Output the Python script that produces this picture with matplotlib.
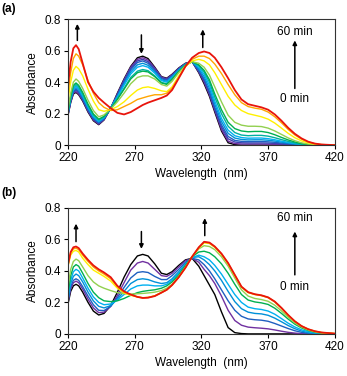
import matplotlib
matplotlib.use("Agg")
import matplotlib.pyplot as plt

plt.rcParams['font.family'] = ['Liberation Sans', 'DejaVu Sans']

# wavelength grid (nm)
wl = [220, 222, 224, 226, 228, 231, 235, 239, 243, 247, 252, 257, 262, 267, 272,
      276, 280, 285, 290, 294, 298, 303, 308, 313, 318, 322, 326, 330, 335, 340,
      345, 350, 355, 360, 365, 370, 375, 380, 385, 390, 395, 400, 405, 410, 420]

# panel (a) spectra, 0 min -> 60 min
a_black = [0.19, 0.27, 0.325, 0.335, 0.32, 0.28, 0.21, 0.155, 0.13, 0.16, 0.235, 0.33, 0.42, 0.50, 0.555,
           0.565, 0.55, 0.495, 0.435, 0.425, 0.45, 0.49, 0.52, 0.53, 0.46, 0.39, 0.31, 0.21, 0.09, 0.015,
           0.003, 0, 0, 0, 0, 0, 0, 0, 0, 0, 0, 0, 0, 0, 0]
a_purple = [0.19, 0.275, 0.33, 0.34, 0.325, 0.285, 0.215, 0.16, 0.133, 0.162, 0.235, 0.325, 0.415, 0.495, 0.545,
            0.555, 0.54, 0.49, 0.432, 0.422, 0.447, 0.488, 0.518, 0.53, 0.465, 0.40, 0.32, 0.22, 0.10, 0.025,
            0.01, 0.007, 0.007, 0.007, 0.007, 0.006, 0.005, 0.003, 0.002, 0.001, 0, 0, 0, 0, 0]
a_violet = [0.195, 0.28, 0.335, 0.35, 0.335, 0.29, 0.22, 0.165, 0.137, 0.165, 0.235, 0.32, 0.41, 0.487, 0.535,
            0.545, 0.53, 0.483, 0.428, 0.418, 0.443, 0.485, 0.517, 0.53, 0.47, 0.41, 0.33, 0.23, 0.115, 0.04,
            0.02, 0.015, 0.014, 0.014, 0.014, 0.013, 0.011, 0.008, 0.005, 0.003, 0.001, 0, 0, 0, 0]
a_blue = [0.2, 0.285, 0.34, 0.355, 0.34, 0.295, 0.225, 0.17, 0.142, 0.168, 0.235, 0.315, 0.40, 0.478, 0.525,
          0.535, 0.52, 0.475, 0.422, 0.413, 0.44, 0.482, 0.515, 0.53, 0.475, 0.42, 0.34, 0.24, 0.13, 0.055,
          0.03, 0.024, 0.022, 0.023, 0.023, 0.021, 0.018, 0.013, 0.009, 0.005, 0.003, 0.001, 0, 0, 0]
a_sky = [0.2, 0.29, 0.35, 0.365, 0.35, 0.305, 0.235, 0.177, 0.147, 0.172, 0.235, 0.31, 0.39, 0.465, 0.51,
         0.52, 0.507, 0.465, 0.415, 0.406, 0.435, 0.478, 0.513, 0.53, 0.485, 0.435, 0.36, 0.26, 0.15, 0.075,
         0.045, 0.036, 0.033, 0.034, 0.034, 0.031, 0.026, 0.019, 0.013, 0.008, 0.004, 0.002, 0, 0, 0]
a_cyan = [0.21, 0.3, 0.36, 0.375, 0.36, 0.315, 0.243, 0.183, 0.152, 0.176, 0.235, 0.305, 0.38, 0.452, 0.495,
          0.505, 0.495, 0.457, 0.41, 0.4, 0.43, 0.475, 0.512, 0.53, 0.495, 0.45, 0.38, 0.28, 0.17, 0.095,
          0.06, 0.048, 0.044, 0.045, 0.045, 0.041, 0.034, 0.025, 0.017, 0.01, 0.005, 0.002, 0, 0, 0]
a_teal = [0.21, 0.305, 0.37, 0.385, 0.37, 0.325, 0.252, 0.192, 0.16, 0.18, 0.233, 0.295, 0.36, 0.43, 0.47,
          0.48, 0.473, 0.44, 0.398, 0.39, 0.422, 0.47, 0.51, 0.53, 0.505, 0.465, 0.40, 0.305, 0.2, 0.12,
          0.08, 0.064, 0.06, 0.062, 0.062, 0.057, 0.047, 0.035, 0.024, 0.014, 0.007, 0.003, 0.001, 0, 0]
a_green = [0.215, 0.31, 0.38, 0.395, 0.38, 0.335, 0.26, 0.198, 0.165, 0.183, 0.232, 0.29, 0.355, 0.42, 0.46,
           0.47, 0.465, 0.435, 0.395, 0.386, 0.418, 0.468, 0.51, 0.53, 0.51, 0.475, 0.415, 0.325, 0.225, 0.145,
           0.105, 0.09, 0.085, 0.087, 0.087, 0.08, 0.066, 0.049, 0.033, 0.02, 0.01, 0.004, 0.001, 0, 0]
a_lgreen = [0.23, 0.33, 0.4, 0.42, 0.405, 0.36, 0.285, 0.22, 0.18, 0.192, 0.23, 0.275, 0.33, 0.39, 0.43,
            0.44, 0.44, 0.42, 0.385, 0.375, 0.405, 0.46, 0.505, 0.53, 0.52, 0.495, 0.445, 0.37, 0.275, 0.19,
            0.145, 0.127, 0.12, 0.12, 0.118, 0.108, 0.09, 0.068, 0.046, 0.028, 0.015, 0.007, 0.003, 0.001, 0]
a_yellow = [0.29, 0.4, 0.475, 0.5, 0.485, 0.44, 0.355, 0.28, 0.225, 0.215, 0.225, 0.245, 0.275, 0.315, 0.35,
            0.365, 0.37, 0.36, 0.345, 0.34, 0.37, 0.44, 0.5, 0.535, 0.545, 0.535, 0.51, 0.46, 0.385, 0.31,
            0.255, 0.22, 0.2, 0.19, 0.18, 0.165, 0.14, 0.108, 0.075, 0.047, 0.027, 0.014, 0.006, 0.002, 0]
a_orange = [0.33, 0.46, 0.55, 0.58, 0.565, 0.51, 0.41, 0.33, 0.27, 0.24, 0.22, 0.225, 0.245, 0.265, 0.29,
            0.30, 0.31, 0.32, 0.32, 0.33, 0.36, 0.43, 0.5, 0.545, 0.565, 0.565, 0.55, 0.515, 0.455, 0.385,
            0.32, 0.27, 0.245, 0.235, 0.228, 0.21, 0.18, 0.142, 0.1, 0.065, 0.038, 0.02, 0.009, 0.004, 0]
a_red = [0.38, 0.53, 0.615, 0.635, 0.61, 0.52, 0.40, 0.34, 0.3, 0.27, 0.235, 0.205, 0.195, 0.21, 0.235,
         0.255, 0.27, 0.285, 0.3, 0.315, 0.35, 0.425, 0.5, 0.555, 0.585, 0.595, 0.585, 0.555, 0.495, 0.425,
         0.35, 0.29, 0.26, 0.25, 0.24, 0.225, 0.195, 0.155, 0.11, 0.072, 0.043, 0.022, 0.01, 0.004, 0]

# panel (b) spectra, 0 min -> 60 min
b_black = [0.19, 0.27, 0.305, 0.315, 0.305, 0.265, 0.2, 0.145, 0.12, 0.13, 0.18, 0.265, 0.36, 0.44, 0.495,
           0.505, 0.495, 0.445, 0.385, 0.377, 0.395, 0.435, 0.47, 0.48, 0.43, 0.37, 0.31, 0.25, 0.14, 0.04,
           0.008, 0.002, 0, 0, 0, 0, 0, 0, 0, 0, 0, 0, 0, 0, 0]
b_purple = [0.2, 0.285, 0.325, 0.335, 0.325, 0.285, 0.22, 0.165, 0.135, 0.138, 0.175, 0.245, 0.325, 0.405, 0.45,
            0.46, 0.45, 0.41, 0.37, 0.365, 0.385, 0.425, 0.465, 0.48, 0.455, 0.41, 0.37, 0.32, 0.24, 0.15,
            0.085, 0.055, 0.043, 0.039, 0.036, 0.032, 0.025, 0.017, 0.01, 0.005, 0.002, 0.001, 0, 0, 0]
b_blue = [0.21, 0.3, 0.34, 0.35, 0.34, 0.3, 0.24, 0.185, 0.15, 0.148, 0.175, 0.23, 0.295, 0.355, 0.39,
          0.395, 0.39, 0.365, 0.345, 0.345, 0.37, 0.41, 0.455, 0.48, 0.47, 0.44, 0.40, 0.35, 0.28, 0.21,
          0.15, 0.112, 0.095, 0.09, 0.087, 0.08, 0.066, 0.05, 0.034, 0.02, 0.01, 0.004, 0.001, 0, 0]
b_sky = [0.22, 0.32, 0.365, 0.38, 0.37, 0.33, 0.265, 0.21, 0.175, 0.165, 0.18, 0.22, 0.27, 0.32, 0.345,
         0.35, 0.345, 0.33, 0.32, 0.325, 0.35, 0.395, 0.445, 0.485, 0.49, 0.47, 0.44, 0.40, 0.34, 0.27,
         0.205, 0.16, 0.138, 0.13, 0.127, 0.118, 0.1, 0.077, 0.053, 0.033, 0.018, 0.008, 0.003, 0.001, 0]
b_cyan = [0.24, 0.34, 0.395, 0.41, 0.40, 0.355, 0.29, 0.235, 0.2, 0.185, 0.19, 0.215, 0.25, 0.285, 0.305,
          0.31, 0.31, 0.305, 0.305, 0.315, 0.34, 0.385, 0.44, 0.485, 0.5, 0.49, 0.47, 0.435, 0.38, 0.315,
          0.25, 0.2, 0.17, 0.16, 0.155, 0.145, 0.125, 0.097, 0.068, 0.044, 0.026, 0.014, 0.007, 0.003, 0]
b_green = [0.26, 0.37, 0.425, 0.44, 0.43, 0.385, 0.32, 0.265, 0.23, 0.21, 0.205, 0.21, 0.225, 0.245, 0.262,
           0.27, 0.275, 0.28, 0.29, 0.305, 0.33, 0.375, 0.435, 0.49, 0.52, 0.525, 0.515, 0.49, 0.445, 0.385,
           0.315, 0.25, 0.215, 0.203, 0.197, 0.187, 0.163, 0.13, 0.094, 0.062, 0.038, 0.021, 0.011, 0.005, 0.001]
b_lgreen = [0.3, 0.41, 0.46, 0.475, 0.465, 0.425, 0.37, 0.33, 0.305, 0.29, 0.275, 0.262, 0.255, 0.253, 0.255,
            0.257, 0.26, 0.265, 0.275, 0.29, 0.315, 0.365, 0.425, 0.49, 0.54, 0.56, 0.555, 0.535, 0.49, 0.43,
            0.355, 0.28, 0.24, 0.225, 0.218, 0.207, 0.182, 0.146, 0.106, 0.07, 0.043, 0.025, 0.013, 0.006, 0.001]
b_yellow = [0.43, 0.5, 0.525, 0.53, 0.52, 0.48, 0.44, 0.405, 0.385, 0.365, 0.335, 0.29, 0.26, 0.245, 0.235,
            0.23, 0.232, 0.242, 0.262, 0.28, 0.31, 0.36, 0.42, 0.49, 0.545, 0.578, 0.574, 0.55, 0.505, 0.445,
            0.37, 0.297, 0.262, 0.25, 0.243, 0.23, 0.203, 0.163, 0.118, 0.079, 0.049, 0.029, 0.016, 0.008, 0.002]
b_orange = [0.44, 0.515, 0.54, 0.545, 0.535, 0.5, 0.46, 0.425, 0.4, 0.38, 0.35, 0.3, 0.265, 0.248, 0.235,
            0.229, 0.231, 0.241, 0.262, 0.28, 0.31, 0.36, 0.42, 0.49, 0.548, 0.582, 0.577, 0.553, 0.508, 0.448,
            0.373, 0.299, 0.264, 0.251, 0.244, 0.231, 0.204, 0.164, 0.119, 0.08, 0.05, 0.03, 0.017, 0.009, 0.002]
b_red = [0.44, 0.52, 0.55, 0.555, 0.545, 0.51, 0.47, 0.435, 0.41, 0.39, 0.36, 0.305, 0.27, 0.25, 0.235,
         0.228, 0.23, 0.24, 0.262, 0.28, 0.31, 0.36, 0.42, 0.49, 0.55, 0.585, 0.58, 0.555, 0.51, 0.45,
         0.375, 0.3, 0.265, 0.252, 0.245, 0.232, 0.205, 0.165, 0.12, 0.08, 0.05, 0.03, 0.017, 0.009, 0.002]

a_series = [a_black, a_purple, a_violet, a_blue, a_sky, a_cyan, a_teal, a_green, a_lgreen, a_yellow, a_orange, a_red]
a_colors = ['#000000', '#7030A0', '#4040B0', '#1F5FC0', '#0090D8', '#00B0F0', '#00B0A0', '#00B050',
            '#92D050', '#FFF000', '#FFA500', '#E8140C']
b_series = [b_black, b_purple, b_blue, b_sky, b_cyan, b_green, b_lgreen, b_yellow, b_orange, b_red]
b_colors = ['#000000', '#7030A0', '#1F5FC0', '#0090D8', '#00B0F0', '#00B050', '#92D050', '#FFF000',
            '#FFA500', '#E8140C']

xticks = [220, 270, 320, 370, 420]
yticks = [0, 0.2, 0.4, 0.6, 0.8]
ytick_labels = ['0', '0.2', '0.4', '0.6', '0.8']


def draw_panel(ax, series, colors, arrows, label_y):
    for ys, c in zip(series, colors):
        lw = 1.3 if c == '#E8140C' else 1.0
        ax.plot(wl, ys, color=c, lw=lw)
    ax.set_xlim(220, 420)
    ax.set_ylim(0, 0.8)
    ax.set_xticks(xticks)
    ax.set_yticks(yticks)
    ax.set_yticklabels(ytick_labels)
    ax.tick_params(direction='out', length=3, width=0.8, labelsize=8.5, pad=2)
    for s in ax.spines.values():
        s.set_linewidth(0.8)
        s.set_color('#333333')
    ax.set_xlabel('Wavelength  (nm)', fontsize=8.5, labelpad=3)
    ax.set_ylabel('Absorbance', fontsize=8.5, labelpad=4)
    for x, y0, y1 in arrows:
        ax.annotate('', xy=(x, y1), xytext=(x, y0),
                    arrowprops=dict(arrowstyle='-|>', color='black', lw=1.1,
                                    mutation_scale=6, shrinkA=0, shrinkB=0))
    ax.text(390, label_y[0], '60 min', ha='center', va='center', fontsize=8.5)
    ax.text(390, label_y[1], '0 min', ha='center', va='center', fontsize=8.5)


fig = plt.figure(figsize=(3.47, 3.76), dpi=100)
ax_a = fig.add_axes([0.196, 0.614, 0.769, 0.335])
ax_b = fig.add_axes([0.196, 0.112, 0.769, 0.335])

draw_panel(ax_a, a_series, a_colors,
           [(227, 0.665, 0.77), (275, 0.70, 0.58), (321, 0.62, 0.735), (390, 0.36, 0.665)],
           (0.72, 0.29))
draw_panel(ax_b, b_series, b_colors,
           [(226, 0.586, 0.70), (275, 0.65, 0.54), (322.5, 0.624, 0.735), (390, 0.375, 0.65)],
           (0.735, 0.30))

fig.text(0.004, 0.976, '(a)', fontsize=8.5, fontweight='bold', ha='left', va='center')
fig.text(0.004, 0.486, '(b)', fontsize=8.5, fontweight='bold', ha='left', va='center')

fig.savefig('out.png', dpi=100)
